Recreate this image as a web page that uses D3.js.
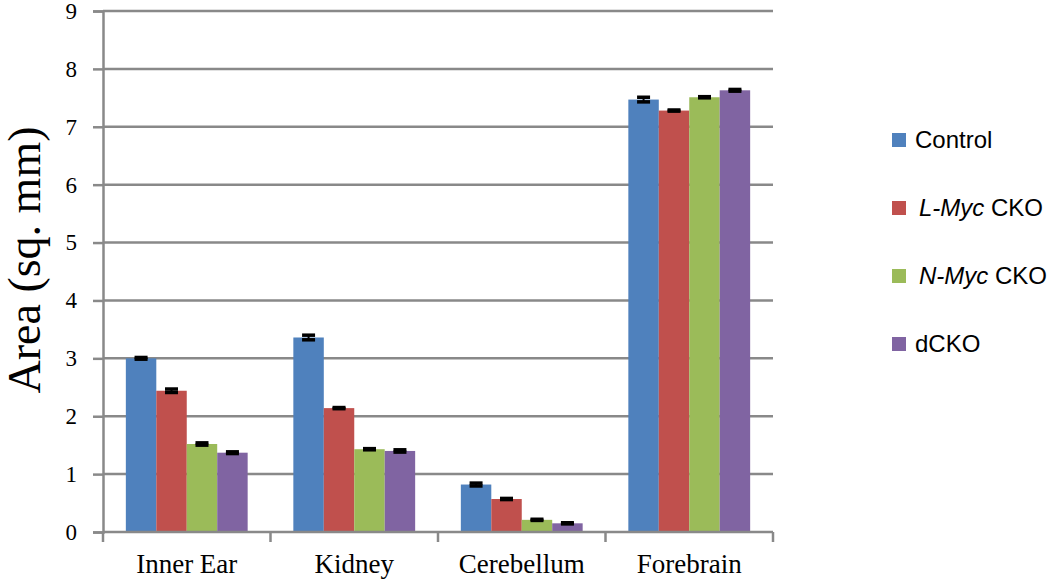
<!DOCTYPE html>
<html>
<head>
<meta charset="utf-8">
<script src="https://cdn.jsdelivr.net/npm/d3@7"></script>
<style>
  html, body { margin: 0; padding: 0; background: #fff; }
  svg { display: block; }
</style>
</head>
<body>
<svg id="chart" width="1050" height="580"></svg>
<script>
// ---- data ----
const categories = ["Inner Ear", "Kidney", "Cerebellum", "Forebrain"];
const seriesNames = ["Control", "L-Myc CKO", "N-Myc CKO", "dCKO"];
const controlValues = [3.00, 3.36, 0.82, 7.47];
const lmycValues    = [2.44, 2.14, 0.57, 7.28];
const nmycValues    = [1.52, 1.43, 0.21, 7.51];
const dckoValues    = [1.37, 1.40, 0.15, 7.63];
const controlErr = [0.015, 0.04, 0.025, 0.04];
const lmycErr    = [0.03, 0.01, 0.01, 0.01];
const nmycErr    = [0.02, 0.01, 0.01, 0.01];
const dckoErr    = [0.015, 0.02, 0.01, 0.015];
const yTicks = [0, 1, 2, 3, 4, 5, 6, 7, 8, 9];
const colors = ["#4F81BD", "#C0504D", "#9BBB59", "#8064A2"];

const seriesValues = [controlValues, lmycValues, nmycValues, dckoValues];
const seriesErrors = [controlErr, lmycErr, nmycErr, dckoErr];

// ---- layout ----
const mLeft = 103, mRight = 773, mTop = 11, mBottom = 532;
const svg = d3.select("#chart");
const axisColor = "#898989";
const lineW = 2.5;

const y = d3.scaleLinear().domain([0, 9]).range([mBottom, mTop]);
const x0 = d3.scaleBand().domain(categories).range([mLeft, mRight]).paddingInner(0).paddingOuter(0);
const bw = x0.bandwidth();
const barW = bw / 5.5;
const x1 = d3.scaleBand().domain(seriesNames)
  .range([barW * 0.75, barW * 0.75 + barW * 4]).padding(0);

// grid lines
svg.append("g").selectAll("line").data(yTicks.filter(d => d > 0)).join("line")
  .attr("x1", mLeft).attr("x2", mRight)
  .attr("y1", d => y(d)).attr("y2", d => y(d))
  .attr("stroke", axisColor).attr("stroke-width", lineW);

// y axis
const yAxis = d3.axisLeft(y).tickValues(yTicks).tickSize(10).tickPadding(16).tickFormat(d3.format("d"));
const gy = svg.append("g").attr("transform", `translate(${mLeft},0)`).call(yAxis);
gy.select(".domain").attr("stroke", axisColor).attr("stroke-width", lineW);
gy.selectAll(".tick line").attr("stroke", axisColor).attr("stroke-width", lineW);
gy.selectAll(".tick text")
  .attr("font-family", "'Liberation Serif', 'Times New Roman', serif")
  .attr("font-size", 23).attr("fill", "#000");

// bars
const groups = svg.append("g").selectAll("g").data(categories).join("g")
  .attr("transform", d => `translate(${x0(d)},0)`);

const rowData = (c, ci) => seriesNames.map((s, si) => ({ s, si, v: seriesValues[si][ci], e: seriesErrors[si][ci] }));

groups.selectAll("rect")
  .data(rowData)
  .join("rect")
  .attr("x", d => x1(d.s))
  .attr("width", x1.bandwidth())
  .attr("y", d => y(d.v))
  .attr("height", d => y(0) - y(d.v))
  .attr("fill", d => colors[d.si]);

// error bars
const capW = 13;
const eg = groups.selectAll("g.err")
  .data(rowData)
  .join("g").attr("class", "err");
const cx = d => x1(d.s) + x1.bandwidth() / 2;
eg.append("line")
  .attr("x1", cx).attr("x2", cx)
  .attr("y1", d => y(d.v + d.e)).attr("y2", d => y(d.v - d.e))
  .attr("stroke", "#000").attr("stroke-width", 2);
eg.append("line")
  .attr("x1", d => cx(d) - capW / 2).attr("x2", d => cx(d) + capW / 2)
  .attr("y1", d => y(d.v + d.e)).attr("y2", d => y(d.v + d.e))
  .attr("stroke", "#000").attr("stroke-width", 3.5);
eg.append("line")
  .attr("x1", d => cx(d) - capW / 2).attr("x2", d => cx(d) + capW / 2)
  .attr("y1", d => y(d.v - d.e)).attr("y2", d => y(d.v - d.e))
  .attr("stroke", "#000").attr("stroke-width", 3.5);

// x axis line and boundary ticks
svg.append("line").attr("x1", mLeft).attr("x2", mRight).attr("y1", mBottom).attr("y2", mBottom)
  .attr("stroke", axisColor).attr("stroke-width", lineW);
const boundaries = categories.map(c => x0(c)).concat([x0(categories[categories.length - 1]) + bw]);
svg.append("g").selectAll("line").data(boundaries).join("line")
  .attr("x1", d => d).attr("x2", d => d).attr("y1", mBottom).attr("y2", mBottom + 10)
  .attr("stroke", axisColor).attr("stroke-width", lineW);

// category labels
svg.append("g").selectAll("text").data(categories).join("text")
  .attr("x", d => x0(d) + bw / 2).attr("y", 573)
  .attr("text-anchor", "middle")
  .attr("font-family", "'Liberation Serif', 'Times New Roman', serif")
  .attr("font-size", 27).attr("fill", "#000")
  .text(d => d);

// y-axis title
svg.append("text")
  .attr("transform", `translate(40,${(122 + 398) / 2}) rotate(-90)`)
  .attr("text-anchor", "middle")
  .attr("font-family", "'Liberation Serif', 'Times New Roman', serif")
  .attr("font-size", 46).attr("fill", "#000")
  .text("Area (sq. mm)");

// legend
const legendParts = [
  [{ t: "Control", i: false }],
  [{ t: "L-Myc", i: true }, { t: " CKO", i: false }],
  [{ t: "N-Myc", i: true }, { t: " CKO", i: false }],
  [{ t: "dCKO", i: false }]
];
const lg = svg.append("g").selectAll("g").data(seriesNames).join("g")
  .attr("transform", (d, i) => `translate(892,${140 + i * 68})`);
lg.append("rect").attr("x", 0).attr("y", -7).attr("width", 14).attr("height", 14)
  .attr("fill", (d, i) => colors[i]);
const lt = lg.append("text").attr("x", 23).attr("y", 0).attr("dy", "0.35em")
  .attr("font-family", "'Liberation Sans', Arial, sans-serif")
  .attr("font-size", 24).attr("fill", "#000");
lt.each(function (d, i) {
  const t = d3.select(this);
  legendParts[i].forEach((p, k) => {
    t.append("tspan").attr("font-style", p.i ? "italic" : "normal")
      .attr("dx", (k === 0 && p.i) ? 4 : 0)
      .text(p.t);
  });
});
</script>
</body>
</html>
